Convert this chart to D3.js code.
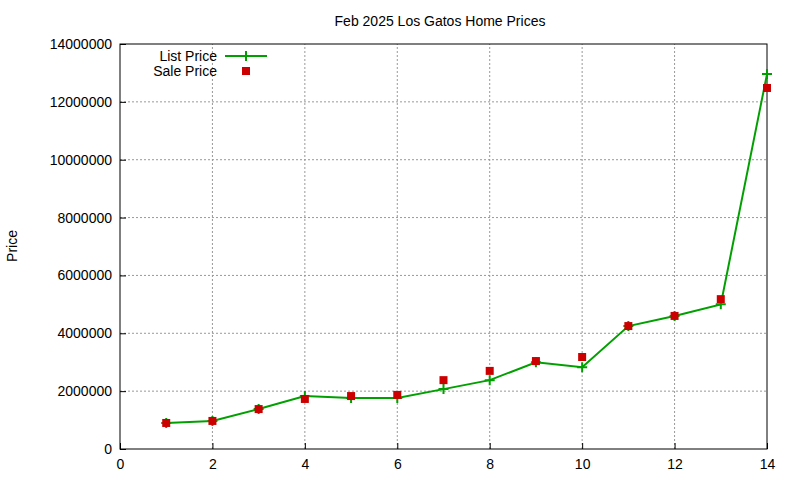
<!DOCTYPE html>
<html><head><meta charset="utf-8">
<script src="https://cdn.jsdelivr.net/npm/d3@7"></script>
<style>body{margin:0;background:#fff}text{font-family:"Liberation Sans",Arial,sans-serif}</style>
</head><body>
<svg id="chart" width="800" height="480"></svg>
<script>
const homes = [1,2,3,4,5,6,7,8,9,10,11,12,13,14];
const listPrice = [900000,970000,1380000,1830000,1760000,1760000,2070000,2380000,3000000,2830000,4250000,4600000,5000000,12960000];
const salePrice = [900000,970000,1380000,1730000,1830000,1870000,2380000,2700000,3040000,3180000,4250000,4600000,5180000,12480000];
const xTicks = [0,2,4,6,8,10,12,14];
const yTicks = [0,2000000,4000000,6000000,8000000,10000000,12000000,14000000];

const svg = d3.select("#chart");
const margin = {top: 44, right: 33, bottom: 31, left: 120};
const W = 800, H = 480;
const x = d3.scaleLinear().domain([0,14]).range([margin.left, W - margin.right]);
const y = d3.scaleLinear().domain([0,14000000]).range([H - margin.bottom, margin.top]);

// grid
svg.append("g").selectAll("line").data(xTicks.slice(1,-1)).enter().append("line")
  .attr("x1", d => x(d)).attr("x2", d => x(d)).attr("y1", y(0)).attr("y2", y(14000000))
  .attr("stroke", "#999").attr("stroke-dasharray", "2,2");
svg.append("g").selectAll("line").data(yTicks.slice(1,-1)).enter().append("line")
  .attr("x1", x(0)).attr("x2", x(14)).attr("y1", d => y(d)).attr("y2", d => y(d))
  .attr("stroke", "#999").attr("stroke-dasharray", "2,2");

svg.append("rect").attr("x", x(0)).attr("y", y(14000000))
  .attr("width", x(14) - x(0)).attr("height", y(0) - y(14000000))
  .attr("fill", "none").attr("stroke", "#000");

const xAxis = svg.append("g").attr("transform", `translate(0,${y(0)})`)
  .call(d3.axisBottom(x).tickValues(xTicks).tickSize(-6).tickPadding(10));
const yAxis = svg.append("g").attr("transform", `translate(${x(0)},0)`)
  .call(d3.axisLeft(y).tickValues(yTicks).tickSize(-6).tickPadding(8).tickFormat(d3.format("d")));
[xAxis, yAxis].forEach(g => {
  g.select(".domain").remove();
  g.selectAll("text").attr("font-size", 14).attr("fill", "#000");
});

svg.append("text").attr("x", 440).attr("y", 26).attr("text-anchor", "middle")
  .attr("font-size", 14).text("Feb 2025 Los Gatos Home Prices");
svg.append("text").attr("transform", "translate(17,246) rotate(-90)")
  .attr("text-anchor", "middle").attr("font-size", 14).text("Price");

const line = d3.line().x((d, i) => x(homes[i])).y(d => y(d));
svg.append("path").datum(listPrice).attr("d", line)
  .attr("fill", "none").attr("stroke", "#00a000").attr("stroke-width", 2);

const plus = (g, cx, cy) => g.append("path")
  .attr("d", `M${cx-5},${cy}H${cx+5}M${cx},${cy-5}V${cy+5}`)
  .attr("stroke", "#00a000").attr("stroke-width", 2);
listPrice.forEach((v, i) => plus(svg, x(homes[i]), y(v)));

svg.selectAll("rect.sale").data(salePrice).enter().append("rect")
  .attr("class", "sale")
  .attr("x", (d, i) => x(homes[i]) - 4).attr("y", d => y(d) - 4)
  .attr("width", 8).attr("height", 8).attr("fill", "#cc0000");

// legend
svg.append("text").attr("x", 217).attr("y", 61).attr("text-anchor", "end")
  .attr("font-size", 14).text("List Price");
svg.append("line").attr("x1", 225).attr("x2", 267).attr("y1", 56).attr("y2", 56)
  .attr("stroke", "#00a000").attr("stroke-width", 2);
plus(svg, 246, 56);
svg.append("text").attr("x", 217).attr("y", 76).attr("text-anchor", "end")
  .attr("font-size", 14).text("Sale Price");
svg.append("rect").attr("x", 242).attr("y", 67).attr("width", 8).attr("height", 8).attr("fill", "#cc0000");
</script>
</body></html>
